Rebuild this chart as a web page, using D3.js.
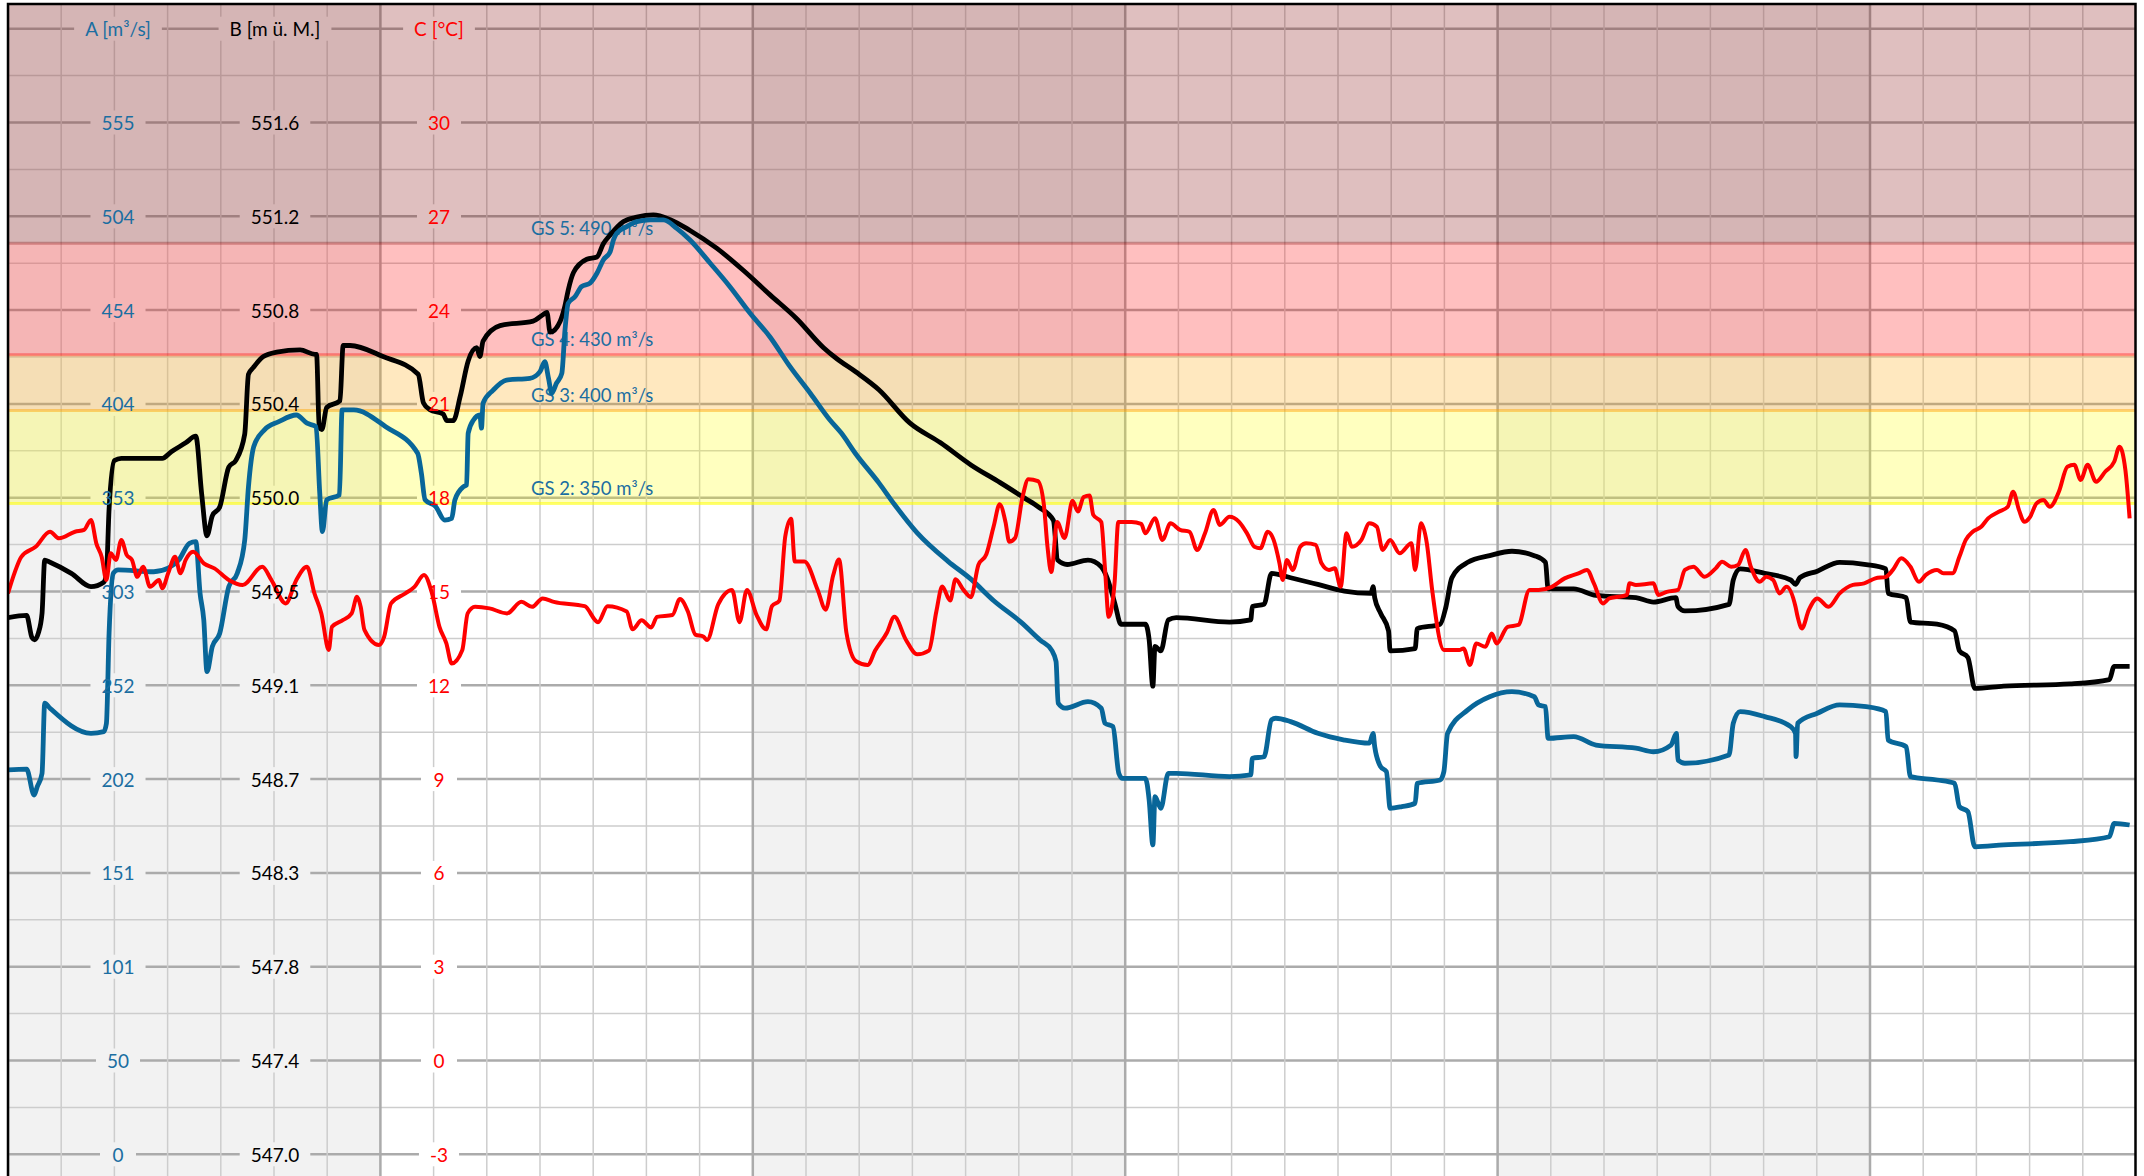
<!DOCTYPE html>
<html>
<head>
<meta charset="utf-8">
<script src="https://cdn.jsdelivr.net/npm/d3@7"></script>
<style>
html, body { margin: 0; padding: 0; background: #fff; }
svg { display: block; font-family: Lato, "Open Sans", sans-serif; }
</style>
</head>
<body>
<svg id="chart"></svg>
<script>
// tick labels of the three stacked axes (one label per grid row)
const ticksA = ["0", "50", "101", "151", "202", "252", "303", "353", "404", "454", "504", "555"];
const ticksB = ["547.0", "547.4", "547.8", "548.3", "548.7", "549.1", "549.5", "550.0", "550.4", "550.8", "551.2", "551.6"];
const ticksC = ["-3", "0", "3", "6", "9", "12", "15", "18", "21", "24", "27", "30"];
const axisTitles = ["A [m³/s]", "B [m ü. M.]", "C [°C]"];

// alarm levels on axis A
const gsNames = ["GS 2", "GS 3", "GS 4", "GS 5"];
const gsLevels = [350, 400, 430, 490];

// series: [day, value]
const flowA = [[0,206.7],[0.35,207.1],[0.49,193.2],[0.55,197.7],[0.64,204.9],[0.69,242.6],[0.79,239.9],[1.56,226.4],[1.8,227.3],[1.85,231.8],[1.9,280.2],[1.98,312.5],[2.07,314.3],[2.74,313.3],[3.01,315.2],[3.21,319.6],[3.41,328.6],[3.53,329.5],[3.61,301.7],[3.68,287.4],[3.74,259.6],[3.84,273],[3.98,280.2],[4.15,305.3],[4.31,312.5],[4.45,330.4],[4.52,359],[4.62,380.6],[4.82,389.6],[5.09,394],[5.42,397.6],[5.62,393.2],[5.79,391.3],[5.86,355.5],[5.91,334.9],[5.99,351.9],[6.23,354.6],[6.28,400.3],[6.5,400.3],[7.1,391.3],[7.7,377],[7.77,366.3],[7.84,352],[8.04,348.3],[8.21,341.1],[8.34,342],[8.4,351.9],[8.56,359],[8.62,360],[8.65,387.8],[8.75,394.9],[8.87,397.6],[8.9,390.5],[8.93,404],[9.12,411],[9.37,416.4],[9.81,417.3],[10,420.9],[10.09,426.3],[10.16,417.3],[10.22,409.3],[10.31,414.7],[10.41,420],[10.47,443.4],[10.53,457.7],[10.66,461.3],[10.78,466.6],[10.94,468.5],[11.07,473.8],[11.19,481],[11.32,485.5],[11.38,491.7],[11.44,495.3],[11.63,498.9],[11.82,501.6],[12.07,502.5],[12.32,502.5],[12.57,498],[12.82,491.7],[13.2,479.2],[13.57,466.6],[13.95,452.3],[14.32,439.7],[14.7,423.6],[15.08,409.3],[15.45,394.9],[15.66,388],[15.94,376.5],[16.37,361.1],[16.66,349.6],[17.09,334.2],[17.67,318.9],[18.1,309.3],[18.53,297.7],[19.04,286.2],[19.4,276.6],[19.62,271],[19.7,265],[19.74,242.6],[19.87,239.9],[20.3,243.4],[20.55,239.9],[20.62,231.8],[20.77,230],[20.88,204.9],[20.95,202.2],[21.38,202.2],[21.45,190.6],[21.52,166.4],[21.56,192.3],[21.67,186.1],[21.81,204.9],[21.96,204.9],[22.96,203.1],[23.36,204],[23.39,213],[23.61,213.8],[23.75,233.6],[23.83,234.5],[24.11,232.7],[24.62,226.4],[25.12,222.8],[25.59,221.1],[25.66,226.4],[25.69,219.2],[25.8,208.5],[25.91,205.8],[25.98,186.1],[26.2,187],[26.45,188.8],[26.49,199.5],[26.92,201.3],[26.99,205.8],[27.06,226.4],[27.44,239],[27.85,246.1],[28.27,248.8],[28.69,246.1],[28.77,241.7],[28.9,240.7],[28.95,223.7],[29.43,224.6],[29.85,220.1],[30.6,218.4],[30.93,216.5],[31.26,220.1],[31.36,226.4],[31.39,212.1],[31.52,210.3],[32.35,214.8],[32.43,231.8],[32.56,238.1],[33.02,235.4],[33.51,230],[33.6,226.4],[33.61,213.9],[33.64,231.8],[34.01,237.2],[34.43,241.7],[34.93,240.7],[35.3,238.1],[35.34,222.8],[35.68,219.2],[35.76,203.1],[36.26,201.3],[36.59,199.5],[36.68,187],[36.84,184.3],[36.97,165.4],[37.51,166.4],[38.76,168.1],[39.5,170.8],[39.59,178],[39.88,177.1]];

const levelB = [[0,549.41],[0.35,549.42],[0.45,549.32],[0.5,549.31],[0.57,549.34],[0.64,549.43],[0.69,549.67],[0.79,549.66],[1.19,549.61],[1.56,549.55],[1.8,549.57],[1.85,549.61],[1.9,549.9],[2,550.12],[2.13,550.13],[2.9,550.13],[3.07,550.16],[3.34,550.2],[3.53,550.23],[3.64,549.97],[3.74,549.78],[3.84,549.87],[3.98,549.91],[4.15,550.09],[4.28,550.12],[4.45,550.24],[4.52,550.51],[4.61,550.54],[4.8,550.59],[5.05,550.61],[5.49,550.62],[5.77,550.6],[5.8,550.6],[5.85,550.27],[5.9,550.26],[5.99,550.36],[6.24,550.39],[6.3,550.64],[6.43,550.64],[7.05,550.59],[7.71,550.51],[7.81,550.38],[7.93,550.35],[8.18,550.33],[8.25,550.3],[8.37,550.3],[8.5,550.41],[8.65,550.57],[8.81,550.63],[8.87,550.59],[8.93,550.66],[9.25,550.73],[9.87,550.75],[10.06,550.78],[10.13,550.79],[10.19,550.7],[10.38,550.75],[10.47,550.82],[10.53,550.89],[10.63,550.97],[10.88,551.03],[11.07,551.04],[11.19,551.1],[11.32,551.14],[11.57,551.2],[11.82,551.22],[12.13,551.23],[12.44,551.21],[12.82,551.16],[13.32,551.08],[13.82,550.98],[14.32,550.87],[14.83,550.76],[15.33,550.63],[15.58,550.58],[15.94,550.52],[16.37,550.44],[16.95,550.29],[17.53,550.2],[18.1,550.1],[18.65,550.02],[19.11,549.95],[19.37,549.91],[19.65,549.85],[19.73,549.67],[19.91,549.65],[20.3,549.67],[20.55,549.64],[20.66,549.59],[20.81,549.47],[20.92,549.38],[21.38,549.38],[21.45,549.31],[21.52,549.1],[21.56,549.28],[21.67,549.26],[21.81,549.4],[21.96,549.41],[22.96,549.39],[23.36,549.4],[23.39,549.46],[23.61,549.47],[23.75,549.61],[24.11,549.59],[24.62,549.56],[25.12,549.53],[25.62,549.52],[25.66,549.55],[25.69,549.5],[25.8,549.43],[25.95,549.35],[25.98,549.26],[26.45,549.27],[26.49,549.36],[26.92,549.38],[27.03,549.46],[27.14,549.59],[27.44,549.66],[27.85,549.69],[28.27,549.71],[28.69,549.69],[28.9,549.66],[28.95,549.54],[29.43,549.54],[29.85,549.51],[30.6,549.5],[30.93,549.48],[31.35,549.5],[31.39,549.46],[31.52,549.44],[32.35,549.47],[32.43,549.58],[32.56,549.63],[33.02,549.61],[33.51,549.58],[33.6,549.56],[33.68,549.59],[34.01,549.62],[34.43,549.66],[34.93,549.65],[35.3,549.63],[35.34,549.52],[35.68,549.5],[35.76,549.39],[36.26,549.38],[36.59,549.35],[36.68,549.26],[36.84,549.23],[36.97,549.09],[37.51,549.1],[38.76,549.11],[39.5,549.13],[39.59,549.19],[39.88,549.19]];

const tempC = [[0,14.94],[0.12,15.58],[0.25,16.11],[0.52,16.43],[0.79,16.91],[0.96,16.7],[1.26,16.91],[1.43,16.97],[1.56,17.29],[1.66,16.54],[1.76,16.11],[1.85,15.37],[1.93,16.22],[2.03,16.01],[2.13,16.65],[2.23,16.17],[2.33,16.01],[2.43,15.47],[2.54,15.79],[2.67,15.15],[2.84,15.37],[2.9,15.1],[3.01,15.58],[3.14,16.11],[3.24,15.58],[3.34,16.01],[3.48,16.27],[3.68,15.9],[3.88,15.74],[4.15,15.37],[4.41,15.21],[4.78,15.79],[4.95,15.37],[5.22,14.62],[5.42,15.37],[5.62,15.79],[5.76,14.94],[5.89,14.3],[6.03,13.13],[6.09,13.87],[6.3,14.09],[6.46,14.3],[6.56,14.83],[6.63,14.51],[6.7,13.77],[6.97,13.29],[7.07,13.55],[7.2,14.62],[7.47,14.94],[7.64,15.15],[7.82,15.53],[7.97,14.94],[8.11,13.87],[8.24,13.34],[8.34,12.7],[8.54,13.13],[8.64,14.3],[8.78,14.51],[9.05,14.46],[9.38,14.3],[9.65,14.67],[9.85,14.51],[10.05,14.78],[10.26,14.67],[10.84,14.53],[11.09,14.02],[11.27,14.53],[11.63,14.36],[11.74,13.79],[11.91,14.08],[12.09,13.85],[12.2,14.19],[12.49,14.25],[12.63,14.76],[12.78,14.36],[12.92,13.62],[13.07,13.56],[13.14,13.45],[13.35,14.59],[13.61,15.05],[13.75,14.02],[13.89,15.05],[14.07,14.25],[14.25,13.79],[14.36,14.53],[14.5,14.71],[14.61,16.76],[14.72,17.33],[14.79,15.96],[14.97,15.96],[15.22,15.05],[15.37,14.42],[15.51,15.51],[15.62,16.02],[15.76,13.68],[15.94,12.77],[16.16,12.65],[16.3,13.11],[16.52,13.68],[16.66,14.19],[16.88,13.45],[17.09,12.99],[17.31,13.11],[17.45,14.36],[17.56,15.16],[17.71,14.71],[17.81,15.39],[17.96,15.05],[18.1,14.82],[18.24,15.85],[18.39,16.19],[18.53,17.1],[18.64,17.79],[18.75,17.22],[18.82,16.59],[18.93,16.71],[19.07,18.02],[19.18,18.59],[19.36,18.53],[19.47,17.79],[19.54,16.42],[19.61,15.62],[19.72,17.22],[19.86,16.71],[20.01,17.9],[20.11,17.56],[20.22,18.02],[20.33,18.07],[20.4,17.45],[20.55,17.22],[20.62,15.73],[20.69,14.19],[20.8,15.27],[20.87,17.22],[21.12,17.22],[21.3,17.16],[21.38,16.86],[21.56,17.34],[21.7,16.65],[21.85,17.18],[22.03,16.97],[22.21,16.91],[22.35,16.33],[22.5,16.86],[22.66,17.61],[22.78,17.13],[22.96,17.39],[23.14,17.23],[23.29,16.86],[23.43,16.43],[23.54,16.38],[23.68,16.91],[23.79,16.65],[23.9,15.9],[23.96,15.37],[24.04,16.01],[24.15,15.69],[24.29,16.43],[24.4,16.54],[24.58,16.49],[24.69,15.9],[24.83,15.69],[24.94,15.74],[25.05,15.15],[25.16,16.86],[25.26,16.43],[25.44,16.65],[25.59,17.18],[25.73,17.07],[25.84,16.33],[25.98,16.65],[26.16,16.22],[26.38,16.54],[26.45,15.69],[26.56,17.18],[26.67,16.54],[26.77,15.05],[26.99,13.13],[27.28,13.13],[27.36,13.18],[27.48,12.65],[27.6,13.34],[27.77,13.23],[27.89,13.66],[27.98,13.34],[28.19,13.87],[28.39,13.93],[28.6,15.05],[28.77,15.05],[29.02,15.15],[29.26,15.42],[29.52,15.58],[29.68,15.69],[29.81,15.26],[29.98,14.62],[30.1,14.78],[30.27,14.83],[30.43,14.89],[30.48,15.26],[30.6,15.21],[30.93,15.26],[31.02,14.89],[31.18,14.99],[31.39,15.05],[31.52,15.69],[31.68,15.79],[31.89,15.47],[32.1,15.74],[32.22,15.95],[32.39,15.79],[32.52,15.85],[32.66,16.33],[32.76,15.79],[32.93,15.31],[33.05,15.47],[33.18,15.37],[33.3,14.94],[33.43,15.15],[33.6,14.51],[33.64,14.19],[33.72,13.82],[33.85,14.41],[34.01,14.78],[34.22,14.51],[34.43,14.94],[34.68,15.21],[34.89,15.26],[35.1,15.42],[35.3,15.47],[35.43,15.69],[35.59,16.06],[35.76,15.79],[35.92,15.31],[36.05,15.53],[36.26,15.69],[36.38,15.58],[36.55,15.58],[36.68,16.11],[36.8,16.65],[36.93,16.91],[37.09,17.07],[37.22,17.34],[37.42,17.55],[37.59,17.71],[37.69,18.19],[37.8,17.61],[37.9,17.23],[38.01,17.39],[38.13,17.82],[38.26,17.93],[38.38,17.71],[38.55,18.19],[38.71,18.99],[38.84,19.05],[38.96,18.57],[39.09,19.05],[39.25,18.51],[39.42,18.83],[39.59,19.15],[39.69,19.63],[39.8,18.89],[39.88,17.34]];

const width = 2144, height = 1176;
const plot = {left: 8, right: 2136, top: 4, bottom: 1176};

const svg = d3.select("#chart").attr("width", width).attr("height", height);

// 40 days across, grid row index 0..11 for the shared tick rows
const x = d3.scaleLinear().domain([0, 40]).range([plot.left, plot.right]);
const row = d3.scaleLinear().domain([0, 11]).range([1154.3, 122.5]);
const yA = d3.scaleLinear().domain([0, 554.9]).range(row.range());
const yB = d3.scaleLinear().domain([546.984, 551.648]).range(row.range());
const yC = d3.scaleLinear().domain([-3, 30]).range(row.range());

svg.append("defs").append("clipPath").attr("id", "clip")
    .append("rect")
    .attr("x", plot.left).attr("y", plot.top)
    .attr("width", plot.right - plot.left).attr("height", plot.bottom - plot.top);

const root = svg.append("g").attr("clip-path", "url(#clip)");
const weekColor = d => (Math.floor(d / 7) % 2 === 0) ? "#f2f2f2" : "#ffffff";

// week panels
root.append("g").selectAll("rect")
    .data(d3.range(0, 40, 7))
    .join("rect")
    .attr("x", d => x(d))
    .attr("width", d => x(Math.min(d + 7, 40)) - x(d))
    .attr("y", plot.top)
    .attr("height", plot.bottom - plot.top)
    .attr("fill", d => weekColor(d));

// grid
const grid = root.append("g");
grid.selectAll("line.h")
    .data(d3.range(-0.5, 13, 0.5))
    .join("line")
    .attr("x1", plot.left).attr("x2", plot.right)
    .attr("y1", d => row(d)).attr("y2", d => row(d))
    .attr("stroke", d => Number.isInteger(d) ? "#ababab" : "#cdcdcd")
    .attr("stroke-width", d => Number.isInteger(d) ? 2.5 : 1.5);
grid.selectAll("line.v")
    .data(d3.range(0, 41))
    .join("line")
    .attr("y1", plot.top).attr("y2", plot.bottom)
    .attr("x1", d => x(d)).attr("x2", d => x(d))
    .attr("stroke", d => d % 7 === 0 ? "#ababab" : "#cdcdcd")
    .attr("stroke-width", d => d % 7 === 0 ? 2.5 : 1.5);

const labelBg = root.append("g");
const bands = root.append("g");
const series = root.append("g");
const labels = svg.append("g").attr("font-size", 19);

// alarm bands
const bandFill = ["rgba(255,255,0,0.25)", "rgba(255,165,0,0.25)", "rgba(255,0,0,0.25)", "rgba(128,0,0,0.25)"];
const bandLine = ["rgba(255,255,0,0.55)", "rgba(255,165,0,0.45)", "rgba(255,0,0,0.38)", "rgba(128,0,0,0.3)"];
bands.selectAll("rect")
    .data(gsLevels)
    .join("rect")
    .attr("x", plot.left).attr("width", plot.right - plot.left)
    .attr("y", (d, i) => i < gsLevels.length - 1 ? yA(gsLevels[i + 1]) : plot.top)
    .attr("height", (d, i) => yA(d) - (i < gsLevels.length - 1 ? yA(gsLevels[i + 1]) : plot.top))
    .attr("fill", (d, i) => bandFill[i]);
bands.selectAll("line")
    .data(gsLevels)
    .join("line")
    .attr("x1", plot.left).attr("x2", plot.right)
    .attr("y1", d => yA(d)).attr("y2", d => yA(d))
    .attr("stroke", (d, i) => bandLine[i])
    .attr("stroke-width", 3);
bands.selectAll("text")
    .data(gsLevels)
    .join("text")
    .attr("x", x(9.83))
    .attr("y", d => yA(d) - 8.5)
    .attr("font-size", 18.5)
    .attr("fill", "#1b6ea1")
    .text((d, i) => `${gsNames[i]}: ${d} m³/s`);

// series
const lineA = d3.line().x(d => x(d[0])).y(d => yA(d[1])).curve(d3.curveMonotoneX);
const lineB = d3.line().x(d => x(d[0])).y(d => yB(d[1])).curve(d3.curveMonotoneX);
const lineC = d3.line().x(d => x(d[0])).y(d => yC(d[1])).curve(d3.curveMonotoneX);
series.append("path").datum(levelB).attr("d", lineB)
    .attr("fill", "none").attr("stroke", "#000").attr("stroke-width", 4.8).attr("stroke-linejoin", "round");
series.append("path").datum(flowA).attr("d", lineA)
    .attr("fill", "none").attr("stroke", "#086699").attr("stroke-width", 4.8).attr("stroke-linejoin", "round");
series.append("path").datum(tempC).attr("d", lineC)
    .attr("fill", "none").attr("stroke", "#ff0000").attr("stroke-width", 4).attr("stroke-linejoin", "round");

// stacked axis labels, each with a panel coloured box under the grid gap
const columns = [
    {ticks: ticksA, title: axisTitles[0], color: "#1b6ea1", cx: plot.left + 110},
    {ticks: ticksB, title: axisTitles[1], color: "#000000", cx: plot.left + 267},
    {ticks: ticksC, title: axisTitles[2], color: "#ff0000", cx: plot.left + 431}
];
columns.forEach(col => {
    const items = col.ticks.map((t, i) => ({text: t, r: i})).concat([{text: col.title, r: 12}]);
    items.forEach(it => {
        const t = labels.append("text")
            .attr("x", col.cx)
            .attr("y", row(it.r))
            .attr("text-anchor", "middle")
            .attr("dominant-baseline", "central")
            .attr("fill", col.color)
            .text(it.text);
        const bb = t.node().getBBox();
        const w = Math.max(bb.width + 22, 36);
        labelBg.append("rect")
            .attr("x", col.cx - w / 2)
            .attr("y", row(it.r) - 12)
            .attr("width", w)
            .attr("height", 24)
            .attr("fill", weekColor(x.invert(col.cx)));
    });
});

// frame (left, top, right)
svg.append("path")
    .attr("d", `M${plot.left},${plot.bottom}V${plot.top}H${plot.right - 0.5}V${plot.bottom}`)
    .attr("fill", "none").attr("stroke", "#000").attr("stroke-width", 2.5);
</script>
</body>
</html>
